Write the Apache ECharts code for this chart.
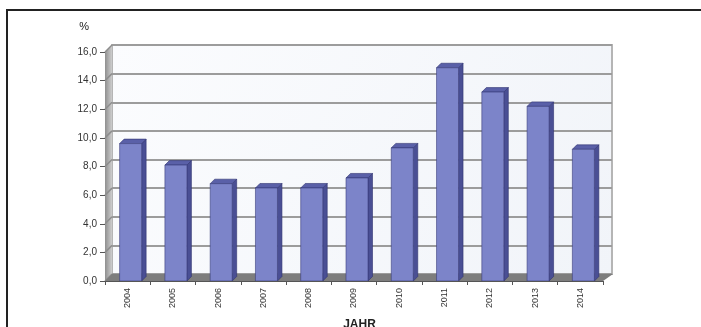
<!DOCTYPE html>
<html>
<head>
<meta charset="utf-8">
<script src="https://cdn.jsdelivr.net/npm/echarts@6/dist/echarts.min.js"></script>
<style>
  html, body { margin: 0; padding: 0; background: #fff; }
  #chart { width: 701px; height: 327px; }
</style>
</head>
<body>
<div id="chart"></div>
<script>
// Jahre und Werte (%)
var years = ['2004', '2005', '2006', '2007', '2008', '2009', '2010', '2011', '2012', '2013', '2014'];
var values = [9.6, 8.1, 6.8, 6.5, 6.5, 7.2, 9.3, 14.9, 13.2, 12.2, 9.2];
var yTicks = [0, 2, 4, 6, 8, 10, 12, 14, 16];

var DX = 7, DY = 7; // 3D-Versatz der Rückwand

function fmt(v) {
	return v.toFixed(1).replace('.', ',');
}

// 3D-Säule: Vorderseite, Seite, Deckel
function renderBar(params, api) {
	var top = api.coord([api.value(0), api.value(1)]);
	var base = api.coord([api.value(0), 0]);
	var w = 22, d = 4.5;
	var x0 = top[0] - w / 2 + 3;
	var x1 = x0 + w;
	return {
		type: 'group',
		children: [
			{
				type: 'polygon',
				shape: { points: [[x1, top[1]], [x1 + d, top[1] - d], [x1 + d, base[1] - d], [x1, base[1]]] },
				style: { fill: '#4a4f94', stroke: '#2f3270', lineWidth: 0.6 }
			},
			{
				type: 'polygon',
				shape: { points: [[x0, top[1]], [x0 + d, top[1] - d], [x1 + d, top[1] - d], [x1, top[1]]] },
				style: { fill: '#5a60a8', stroke: '#2f3270', lineWidth: 0.6 }
			},
			{
				type: 'rect',
				shape: { x: x0, y: top[1], width: w, height: base[1] - top[1] },
				style: { fill: '#7c84c9', stroke: '#3a3e7c', lineWidth: 0.6 }
			}
		]
	};
}

// linke Seitenwand mit schrägen Gitterlinien, Boden
function renderSideWall(params, api) {
	var cs = params.coordSys;
	var y = api.coord([0, api.value(1)])[1];
	var children = [{
		type: 'line',
		shape: { x1: cs.x, y1: y, x2: cs.x + DX, y2: y - DY },
		style: { stroke: '#8d8d8d', lineWidth: 1.5 }
	}];
	if (params.dataIndex === 0) {
		children.unshift({
			type: 'polygon',
			shape: { points: [[cs.x, cs.y], [cs.x + DX, cs.y - DY], [cs.x + DX, cs.y + cs.height - DY], [cs.x, cs.y + cs.height]] },
			style: {
				fill: new echarts.graphic.LinearGradient(0, 0, 1, 0, [
					{ offset: 0, color: '#8f8f8f' }, { offset: 1, color: '#cdcdcd' }
				])
			}
		});
		children.push({
			type: 'polygon',
			shape: { points: [[cs.x, cs.y + cs.height], [cs.x + DX, cs.y + cs.height - DY], [cs.x + cs.width + 10, cs.y + cs.height - DY], [cs.x + cs.width, cs.y + cs.height]] },
			style: { fill: '#7d7d7d' }
		});
	}
	return { type: 'group', children: children };
}

var chart = echarts.init(document.getElementById('chart'));

var option = {
	backgroundColor: '#fff',
	animation: false,
	textStyle: { fontFamily: 'Liberation Sans, Arial, sans-serif' },
	grid: [
		{ left: 105, right: 98, top: 52, bottom: 46, outerBoundsMode: 'none', containLabel: false },
		{ left: 105 + DX, right: 89, top: 52 - DY, bottom: 46 + DY, show: true,
		  outerBoundsMode: 'none', containLabel: false,
		  backgroundColor: new echarts.graphic.LinearGradient(0, 0, 1, 1, [
			{ offset: 0, color: '#fbfcfe' }, { offset: 1, color: '#f1f4f9' }
		  ]),
		  borderColor: '#b5b5b5', borderWidth: 2 }
	],
	xAxis: [
		{
			gridIndex: 0, type: 'category', data: years,
			axisLine: { show: true, lineStyle: { color: '#555', width: 1 } },
			axisTick: { show: true, length: 4, lineStyle: { color: '#555' } },
			axisLabel: { rotate: 90, fontSize: 9, color: '#333', margin: 7 },
			name: 'JAHR', nameLocation: 'middle', nameGap: 38,
			nameTextStyle: { fontSize: 12, fontWeight: 'bold', color: '#222', padding: [0, 0, 0, 11] },
			z: 5
		},
		{ gridIndex: 1, type: 'category', data: years, show: false }
	],
	yAxis: [
		{
			gridIndex: 0, type: 'value', min: 0, max: 16, interval: 2,
			axisLine: { show: false },
			axisTick: { show: true, length: 5, lineStyle: { color: '#555' } },
			axisLabel: { fontSize: 10, color: '#333', margin: 8, formatter: fmt },
			splitLine: { show: false },
			name: '%', nameLocation: 'end', nameGap: 20,
			nameTextStyle: { fontSize: 11, color: '#222', align: 'right', padding: [0, 16, 0, 0] }
		},
		{
			gridIndex: 1, type: 'value', min: 0, max: 16, interval: 2,
			axisLine: { show: false }, axisTick: { show: false }, axisLabel: { show: false },
			splitLine: { show: true, lineStyle: { color: '#9c9c9c', width: 2 } }
		}
	],
	graphic: [
		{ type: 'line', shape: { x1: 6, y1: 10, x2: 701, y2: 10 }, style: { stroke: '#222', lineWidth: 2 } },
		{ type: 'line', shape: { x1: 7, y1: 10, x2: 7, y2: 327 }, style: { stroke: '#222', lineWidth: 2 } }
	],
	series: [
		{
			type: 'custom', xAxisIndex: 0, yAxisIndex: 0, z: 2,
			renderItem: renderSideWall,
			data: yTicks.map(function (t) { return [0, t]; }),
			silent: true
		},
		{
			type: 'custom', xAxisIndex: 0, yAxisIndex: 0, z: 3,
			renderItem: renderBar,
			data: values.map(function (v, i) { return [i, v]; })
		}
	]
};

chart.setOption(option);
</script>
</body>
</html>
